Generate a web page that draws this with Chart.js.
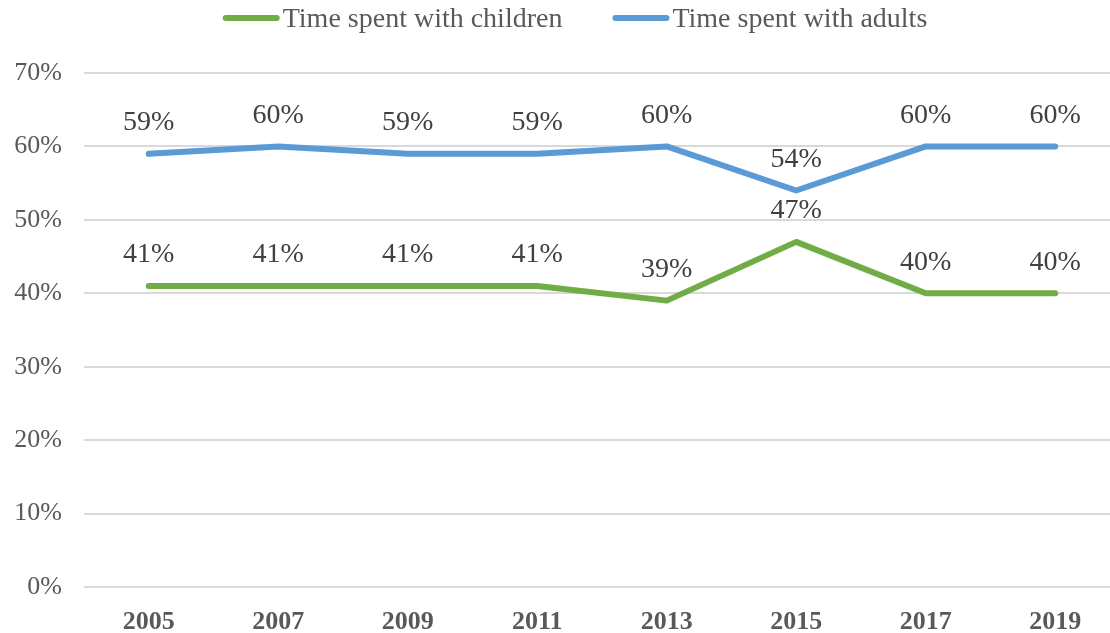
<!DOCTYPE html>
<html>
<head>
<meta charset="utf-8">
<script src="https://cdn.jsdelivr.net/npm/chart.js@4/dist/chart.umd.min.js"></script>
<style>
html,body{margin:0;padding:0;background:#fff;overflow:hidden;}
#wrap{width:1120px;height:633px;position:relative;}
</style>
</head>
<body>
<div id="wrap"><canvas id="c"></canvas></div>
<script>
const years = ['2005','2007','2009','2011','2013','2015','2017','2019'];
const children = [41,41,41,41,39,47,40,40];
const adults = [59,60,59,59,60,54,60,60];
const yTicks = [0,10,20,30,40,50,60,70];

const FONT = '"Liberation Serif", "Times New Roman", serif';

const labelPlugin = {
  id: 'valueLabels',
  afterDatasetsDraw(chart) {
    const ctx = chart.ctx;
    ctx.save();
    ctx.font = '28px ' + FONT;
    ctx.fillStyle = '#404040';
    ctx.textAlign = 'center';
    ctx.textBaseline = 'middle';
    chart.data.datasets.forEach((ds, i) => {
      const meta = chart.getDatasetMeta(i);
      meta.data.forEach((pt, j) => {
        ctx.fillText(ds.data[j] + '%', pt.x, pt.y - 31);
      });
    });
    ctx.restore();
  }
};

// legend drawn on the canvas from dataset labels/colours
const legendPlugin = {
  id: 'topLegend',
  afterDraw(chart) {
    const ctx = chart.ctx;
    ctx.save();
    ctx.font = '28px ' + FONT;
    const lineLen = 57, gapText = 3, gapItem = 50, cy = 18, centerX = 575;
    const items = chart.data.datasets.map(ds => ({text: ds.label, color: ds.borderColor, w: ctx.measureText(ds.label).width}));
    let total = 0;
    items.forEach((it, i) => { total += lineLen + gapText + it.w + (i < items.length - 1 ? gapItem : 0); });
    let x = centerX - total / 2;
    items.forEach(it => {
      ctx.strokeStyle = it.color;
      ctx.lineWidth = 6;
      ctx.lineCap = 'round';
      ctx.beginPath();
      ctx.moveTo(x + 3, cy);
      ctx.lineTo(x + lineLen - 3, cy);
      ctx.stroke();
      ctx.fillStyle = '#595959';
      ctx.textAlign = 'left';
      ctx.textBaseline = 'middle';
      ctx.fillText(it.text, x + lineLen + gapText, cy + 2);
      x += lineLen + gapText + it.w + gapItem;
    });
    ctx.restore();
  }
};

new Chart(document.getElementById('c'), {
  type: 'line',
  data: {
    labels: years,
    datasets: [
      {label: 'Time spent with children', data: children, borderColor: '#70AD47', backgroundColor: '#70AD47', borderWidth: 6, pointRadius: 0, tension: 0, borderCapStyle: 'round', borderJoinStyle: 'round'},
      {label: 'Time spent with adults', data: adults, borderColor: '#5B9BD5', backgroundColor: '#5B9BD5', borderWidth: 6, pointRadius: 0, tension: 0, borderCapStyle: 'round', borderJoinStyle: 'round'}
    ]
  },
  options: {
    responsive: true,
    maintainAspectRatio: false,
    animation: false,
    layout: {padding: {top: 73, left: 0, right: 0, bottom: 0}},
    plugins: {
      legend: {display: false},
      tooltip: {enabled: false}
    },
    scales: {
      x: {
        offset: true,
        afterFit(scale) { scale.height = 46; },
        grid: {display: false, offset: true},
        border: {display: false},
        ticks: {color: '#595959', font: {family: FONT, size: 26, weight: 'bold'}, padding: 12}
      },
      y: {
        min: 0, max: 70,
        afterBuildTicks(scale) { scale.ticks = yTicks.map(v => ({value: v})); },
        afterFit(scale) { scale.width = 84; },
        grid: {color: '#d9d9d9', lineWidth: 2, drawTicks: false},
        border: {display: false},
        ticks: {color: '#595959', font: {family: FONT, size: 26}, padding: 22, callback: v => v + '%'}
      }
    }
  },
  plugins: [labelPlugin, legendPlugin]
});
</script>
</body>
</html>
